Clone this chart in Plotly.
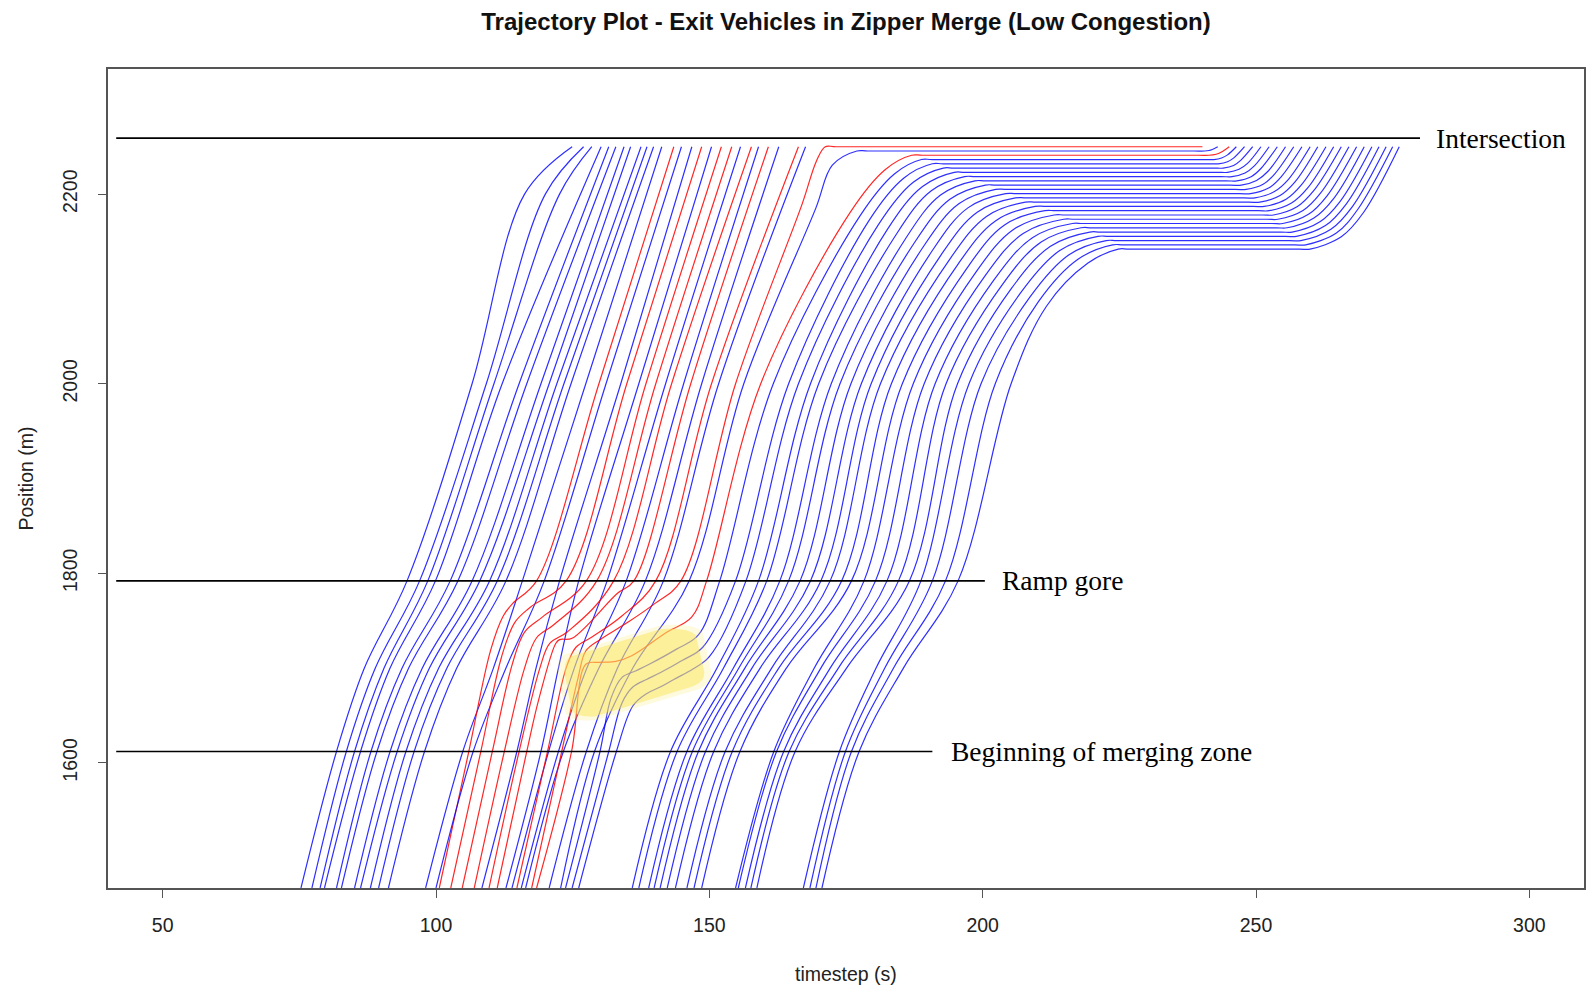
import plotly.graph_objects as go

# ---------------------------------------------------------------------------
# Axis windows (time in s, position in m)
# ---------------------------------------------------------------------------
X_RANGE = [40, 310]
Y_RANGE = [1468, 2332]
X_TICKS = [50, 100, 150, 200, 250, 300]
Y_TICKS = [1600, 1800, 2000, 2200]

# Reference positions along the corridor (m)
MERGE_START_Y = 1612
RAMP_GORE_Y = 1792
INTERSECTION_Y = 2259
STOP_Y = 2250

# Fixed positions at which every trajectory is sampled (m)
BOTTOM_Y = 1468
MID_Y = 1700
UPPER_Y = 2000

# ---------------------------------------------------------------------------
# Crossing times (s) of the 51 exit vehicles, ordered by downstream arrival
# ---------------------------------------------------------------------------
T_BOTTOM = [75.3, 77.3, 78.8, 79.6, 81.8, 82.7, 85.1, 86.2, 88.0, 89.5, 91.3,
            98.1, 100.6, 100.0, 108.4, 102.7, 112.8, 104.8, 107.0, 113.9, 109.7,
            115.6, 111.2, 116.4, 114.8, 120.7, 117.5, 122.8, 118.4, 123.7, 124.9, 126.1,
            135.9, 137.1, 138.9, 139.9, 141.0, 142.3, 143.8, 145.9, 147.2, 148.6,
            154.8, 155.3, 156.6, 157.6, 158.7,
            167.2, 168.4, 169.5, 170.6]

T_MERGE = [81.8, 83.6, 85.1, 86.2, 88.1, 89.2, 91.6, 92.9, 94.5, 96.0, 97.9,
           104.9, 106.0, 106.8, 114.8, 108.2, 119.2, 110.3, 112.5, 120.6, 115.2,
           122.4, 116.6, 123.3, 120.4, 127.5, 123.0, 129.0, 124.8, 130.0, 131.6, 133.0,
           142.9, 144.1, 145.9, 146.9, 148.0, 149.3, 150.8, 152.9, 154.2, 155.6,
           161.8, 162.3, 163.6, 164.6, 165.7,
           173.8, 174.9, 176.0, 177.4]

# None where the vehicle's merge-zone path is given in KNEE_POINTS
T_MID = [86.9, 88.9, 90.5, 91.6, 93.8, 95.0, 97.5, 98.8, 100.5, 102.0, 103.8,
         110.5, None, 112.8, 118.3, None, 122.4, None, None, 125.3, None,
         127.6, None, 129.8, None, 133.2, None, 136.0, None, None, None, None,
         151.4, 152.6, 154.4, 155.4, 156.5, 157.8, 159.3, 161.4, 162.7, 164.1,
         169.2, 170.4, 172.1, 173.6, 175.1,
         180.5, 182.1, 183.7, 185.5]

T_GORE = [94.7, 97.0, 98.5, 99.9, 102.6, 104.0, 106.6, 108.0, 109.8, 111.2, 112.8,
          115.8, 118.4, 119.8, 122.6, 123.8, 126.1, 127.5, 129.4, 131.3, 132.5,
          134.8, 136.2, 138.3, 140.2, 141.6, 144.8, 146.3, 149.5, 151.9, 154.8, 156.7,
          159.0, 160.5, 162.9, 164.5, 166.6, 168.5, 170.4, 172.1, 174.2, 176.0,
          178.3, 180.4, 182.5, 184.6, 186.6,
          188.7, 190.8, 193.2, 195.5]

T_UPPER = [106.6, 109.2, 110.6, 112.1, 115.2, 116.6, 119.2, 120.7, 122.1, 123.4, 124.7,
           127.4, 129.8, 131.1, 133.8, 134.9, 137.1, 138.4, 140.2, 142.0, 143.1,
           145.3, 146.6, 148.6, 150.4, 151.7, 154.8, 156.3, 159.4, 161.7, 164.5, 166.3,
           168.5, 170.0, 172.3, 173.9, 175.9, 177.8, 179.6, 181.3, 183.3, 185.3,
           187.3, 189.3, 191.3, 193.3, 195.4,
           197.5, 199.7, 202.3, 205.2]

# Vehicles drawn in red (1-based vehicle numbers)
RED_VEHICLES = [13, 16, 18, 19, 21, 23, 25, 27, 29]

# Merge-zone paths (t, position) of vehicles that brake before merging
KNEE_POINTS = {
    13: [(110.0, 1719), (112.3, 1755), (114.0, 1768)],
    16: [(112.0, 1712), (114.4, 1748), (117.2, 1764)],
    18: [(114.0, 1705), (116.2, 1738), (119.5, 1754)],
    19: [(116.2, 1700), (118.4, 1732), (121.6, 1746)],
    21: [(119.0, 1700), (120.8, 1726), (124.0, 1738)],
    23: [(118.8, 1667), (121.9, 1726), (122.6, 1730), (124.9, 1731.5), (133.2, 1779)],
    25: [(123.8, 1700), (125.6, 1722), (128.6, 1733), (134.0, 1755)],
    27: [(126.0, 1690), (127.4, 1718), (130.0, 1730), (135.0, 1748), (140.0, 1768)],
    29: [(127.4, 1704), (129.8, 1706), (132.9, 1707), (135.8, 1713), (142.0, 1737), (146.8, 1754)],
    30: [(132.0, 1668), (134.0, 1690), (136.5, 1697), (139.0, 1704), (144.0, 1720), (148.0, 1735)],
    31: [(134.0, 1663), (136.0, 1680), (138.5, 1688), (141.0, 1695), (145.0, 1708), (148.8, 1722)],
    32: [(136.0, 1660), (138.5, 1673), (141.0, 1680), (143.5, 1688), (147.0, 1699), (150.0, 1712)],
}

# Vehicles 1-26 reach the stop line without queuing
FREE_T_STOP = [124.9, 127.0, 128.5, 130.2, 131.6, 132.9, 134.4, 135.6, 137.5, 138.6,
               139.8, 141.3, 143.5, 144.9, 146.8, 148.6, 150.4, 152.2, 154.1, 155.7,
               157.7, 159.0, 160.8, 162.7, 166.3, 167.6]
FREE_T_2200 = [116.2, 120.0, 122.6]   # leaders that ease off near the stop line

# Vehicles 27-51 queue at the intersection
Q_LEVEL = [2250.0, 2245.5, 2241.0, 2236.5, 2232.0, 2227.5, 2223.0, 2218.5, 2214.0,
           2209.5, 2205.0, 2200.5, 2196.0, 2191.5, 2187.0, 2182.5, 2178.0, 2173.5,
           2169.0, 2164.5, 2160.0, 2155.5, 2151.0, 2146.5, 2142.0]
Q_T_FAR = [167.0, 169.5, 175.8, 177.5, 179.2, 180.9, 182.6, 184.3, 186.0, 187.6,
           189.2, 190.8, 192.4, 194.0, 195.6, 197.2, 198.8, 200.4, 202.0, 203.6,
           205.2, 206.9, 208.6, 210.2, 211.7]          # 60 m short of queue position
Q_T_NEAR = [169.6, 172.5, 182.2, 183.9, 185.6, 187.3, 189.0, 190.6, 192.3, 194.0,
            195.7, 197.3, 199.0, 200.7, 202.4, 204.0, 205.7, 207.4, 209.1, 210.7,
            212.4, 214.1, 215.8, 217.5, 219.2]         # 15 m short of queue position
Q_ARRIVE = [171.2, 177.0, 187.0, 188.8, 190.8, 192.8, 194.8, 196.7, 198.6, 200.5,
            202.4, 204.2, 206.0, 207.8, 209.6, 211.4, 213.1, 214.8, 216.4, 218.0,
            219.6, 221.1, 222.6, 223.8, 224.8]
Q_DEPART = [240.2, 240.6, 241.4, 242.3, 243.1, 244.0, 244.8, 245.6, 246.5, 247.3,
            248.2, 249.0, 249.8, 250.7, 251.5, 252.4, 253.2, 254.0, 254.9, 255.7,
            256.6, 257.4, 258.2, 259.1, 259.9]
# Two positions passed while pulling away from the queue
Q_PULL_T = [240.2, 241.4, 242.7, 243.7, 244.8, 245.9, 246.9, 248.0, 249.1, 250.1,
            251.3, 252.3, 253.3, 254.4, 255.5, 256.5, 257.5, 258.6, 259.6, 260.6,
            261.7, 262.7, 263.7, 264.7, 265.6]
Q_PULL_Y = [2250.0, 2246.0, 2242.1, 2238.1, 2234.2, 2230.2, 2226.2, 2222.3, 2218.3,
            2214.4, 2210.4, 2206.4, 2202.5, 2198.5, 2194.6, 2190.6, 2186.6, 2182.7,
            2178.7, 2174.8, 2170.8, 2166.8, 2162.9, 2158.9, 2155.0]
Q_RISE_T = [240.2, 242.0, 243.6, 244.8, 246.0, 247.2, 248.5, 249.7, 250.9, 252.2,
            253.4, 254.6, 255.9, 257.1, 258.3, 259.5, 260.6, 261.8, 263.0, 264.2,
            265.4, 266.5, 267.6, 268.6, 269.7]
Q_RISE_Y = [2250.0, 2247.1, 2244.2, 2241.4, 2238.5, 2235.6, 2232.7, 2229.8, 2227.0,
            2224.1, 2221.2, 2218.3, 2215.4, 2212.6, 2209.7, 2206.8, 2203.9, 2201.0,
            2198.2, 2195.3, 2192.4, 2189.5, 2186.6, 2183.8, 2180.9]
Q_END = [240.2, 243.0, 245.1, 246.4, 247.9, 249.4, 250.9, 252.4, 253.9, 255.4,
         256.9, 258.4, 259.9, 261.3, 262.8, 264.2, 265.6, 267.0, 268.4, 269.8,
         271.2, 272.5, 273.8, 275.0, 276.2]

N_FREE = len(FREE_T_STOP)
HOLD = 2.0          # short flat run kept at each end of a standstill

BLUE = "rgba(0,0,255,0.82)"
RED = "rgba(255,0,0,0.85)"


def vehicle_points(k):
    vid = k + 1
    pts = [(T_BOTTOM[k], BOTTOM_Y), (T_MERGE[k], MERGE_START_Y)]
    if vid in KNEE_POINTS:
        pts += KNEE_POINTS[vid]
    else:
        pts.append((T_MID[k], MID_Y))
    pts += [(T_GORE[k], RAMP_GORE_Y), (T_UPPER[k], UPPER_Y)]
    if k < N_FREE:
        if k < len(FREE_T_2200):
            pts.append((FREE_T_2200[k], 2200))
        pts.append((FREE_T_STOP[k], STOP_Y))
    else:
        q = k - N_FREE
        lvl = Q_LEVEL[q]
        pts += [(Q_T_FAR[q], lvl - 60), (Q_T_NEAR[q], lvl - 15),
                (Q_ARRIVE[q], lvl), (Q_ARRIVE[q] + HOLD, lvl)]
        if Q_END[q] > Q_DEPART[q]:
            pts += [(Q_DEPART[q] - HOLD, lvl), (Q_DEPART[q], lvl),
                    (Q_PULL_T[q], Q_PULL_Y[q]), (Q_RISE_T[q], Q_RISE_Y[q]),
                    (Q_END[q], STOP_Y)]
        else:
            pts.append((Q_END[q], lvl))
    return pts


fig = go.Figure()
for k in range(len(T_BOTTOM)):
    pts = vehicle_points(k)
    colour = RED if (k + 1) in RED_VEHICLES else BLUE
    fig.add_trace(go.Scatter(
        x=[p[0] for p in pts], y=[p[1] for p in pts],
        mode="lines", line=dict(color=colour, width=1.2, shape="spline", smoothing=1.0),
        hoverinfo="skip", showlegend=False,
    ))

# Reference lines with their labels
REF_LINES = [
    ("Intersection", INTERSECTION_Y, 41.5, 280.0, 282.6),
    ("Ramp gore", RAMP_GORE_Y, 41.5, 200.4, 203.2),
    ("Beginning of merging zone", MERGE_START_Y, 41.5, 190.8, 193.8),
]
shapes = []
annotations = []
for label, yv, x0, x1, xt in REF_LINES:
    shapes.append(dict(type="line", xref="x", yref="y", x0=x0, x1=x1, y0=yv, y1=yv,
                       line=dict(color="#000000", width=1.7), layer="above"))
    annotations.append(dict(x=xt, y=yv, xref="x", yref="y", text=label, showarrow=False,
                            xanchor="left", yanchor="middle",
                            font=dict(family="Liberation Serif, Times New Roman, serif",
                                      size=27.5, color="#000000")))

# Highlighted disturbance inside the merging zone
YELLOW_OUTER = ("M123.3,1714 L141,1745 Q147.5,1748 148.8,1737 L150.3,1697 "
                "Q150.8,1681 146.5,1675 L129,1645 Q124.3,1643 123.6,1654 "
                "L122.3,1696 Q122.2,1710 123.3,1714 Z")
YELLOW_INNER = ("M124.5,1712 L141,1741 Q146,1743 147.5,1735 L149,1698 "
                "Q149.5,1684 146,1679 L129,1649 Q125.5,1648 124.8,1656 "
                "L123.5,1695 Q123.5,1708 124.5,1712 Z")
shapes.append(dict(type="path", xref="x", yref="y", path=YELLOW_OUTER,
                   fillcolor="rgba(250,232,100,0.22)", line=dict(width=0), layer="above"))
shapes.append(dict(type="path", xref="x", yref="y", path=YELLOW_INNER,
                   fillcolor="rgba(250,230,90,0.5)", line=dict(width=0), layer="above"))

# Axis titles
SANS = "Liberation Sans, Arial, sans-serif"
annotations.append(dict(x=0.5, y=0, xref="paper", yref="paper", yshift=-86,
                        text="timestep (s)", showarrow=False, xanchor="center",
                        yanchor="middle", font=dict(family=SANS, size=19.5, color="#222222")))
annotations.append(dict(x=0, y=0.5, xref="paper", yref="paper", xshift=-83,
                        text="Position (m)", showarrow=False, textangle=-90,
                        xanchor="center", yanchor="middle",
                        font=dict(family=SANS, size=19.5, color="#222222")))

axis_common = dict(showgrid=False, zeroline=False, showline=True, mirror=True,
                   linecolor="#555555", linewidth=1.6, ticks="outside", ticklen=8,
                   tickwidth=1.4, tickcolor="#555555",
                   tickfont=dict(family=SANS, size=19.5, color="#222222"))

fig.update_layout(
    width=1587, height=990,
    margin=dict(l=108, r=1, t=69, b=102),
    paper_bgcolor="white", plot_bgcolor="white",
    title=dict(text="<b>Trajectory Plot - Exit Vehicles in Zipper Merge (Low Congestion)</b>",
               x=0.5, xref="paper", y=1 - 21.5 / 990, yref="container",
               xanchor="center", yanchor="middle",
               font=dict(family=SANS, size=24, color="#111111")),
    xaxis=dict(range=X_RANGE, tickvals=X_TICKS, ticklabelstandoff=11, **axis_common),
    yaxis=dict(range=Y_RANGE, tickvals=Y_TICKS, tickangle=-90, ticklabelstandoff=13,
               **axis_common),
    shapes=shapes, annotations=annotations,
)

fig.write_html("out.html", config={"displayModeBar": False})
